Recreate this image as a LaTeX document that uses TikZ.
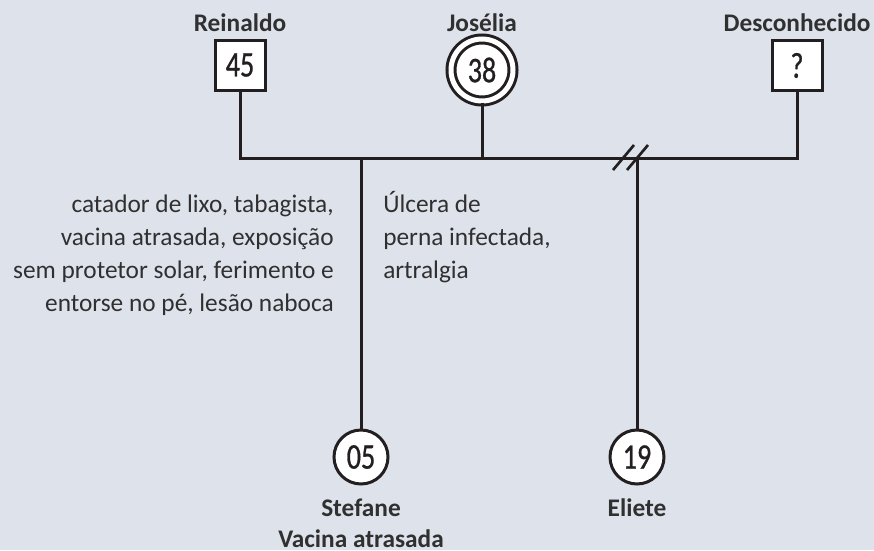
\documentclass[tikz,border=0pt]{standalone}
\usepackage{fontspec}
\setmainfont{Carlito}
\newfontfamily\numfont[FakeStretch=0.78,FakeBold=0.8]{Carlito}
\usetikzlibrary{calc}
\definecolor{bgcol}{RGB}{222,226,235}
\definecolor{linecol}{RGB}{35,31,32}
\definecolor{textcol}{RGB}{48,48,48}
\tikzset{
  conn/.style={draw=linecol, line width=2.25pt},
  sqbox/.style={draw=linecol, fill=white, line width=2.25pt, minimum size=37.5pt, inner sep=0pt, text=linecol, font=\numfont\fontsize{27}{27}\selectfont},
  circbox/.style={circle, draw=linecol, fill=white, line width=2.25pt, minimum size=40.5pt, inner sep=0pt, text=linecol, font=\numfont\fontsize{27}{27}\selectfont},
  dcircbox/.style={circle, draw=linecol, double=white, double distance=3.75pt, fill=white, line width=2.25pt, minimum size=46.5pt, inner sep=0pt, text=linecol, font=\numfont\fontsize{27}{27}\selectfont},
  namelbl/.style={inner sep=0pt, anchor=base, text=textcol, font=\bfseries\fontsize{19}{23.25}\selectfont},
  notelbl/.style={inner sep=0pt, text=textcol, font=\fontsize{19}{24.75}\selectfont}
}
\begin{document}
\begin{tikzpicture}[x=0.75pt,y=-0.75pt]
\fill[bgcol] (0,0) rectangle (874,550);
\useasboundingbox (0,0) rectangle (874,550);

\node[sqbox] (rei) at (240,65) {45};
\node[dcircbox] (jos) at (482,70) {38};
\node[sqbox] (des) at (797,65.5) {?};
\node[circbox] (ste) at (361,457) {05};
\node[circbox] (eli) at (637,457) {19};

\node[namelbl] (reiname) at (240,31) {Reinaldo};
\node[namelbl] (josname) at (482,31) {Josélia};
\node[namelbl] (desname) at (797,31) {Desconhecido};
\node[namelbl, anchor=north, align=center] (stename) at (361,499) {Stefane\\Vacina atrasada};
\node[namelbl] (eliname) at (637,516) {Eliete};

\node[notelbl, anchor=north east, align=right] (stenote) at (334,195) {catador de lixo, tabagista,\\vacina atrasada, exposição\\sem protetor solar, ferimento e\\entorse no pé, lesão naboca};
\node[notelbl, anchor=north west, align=left] (josnote) at (383,191) {Úlcera de\\perna infectada,\\artralgia};

\coordinate (barL) at (240,158);
\coordinate (barR) at (797,158);
\draw[conn] (rei.south) -- (barL) -- (barR) -- (des.south);
\draw[conn] (jos.south) -- (jos.south |- barL);
\draw[conn] (ste.north |- barL) -- (ste.north);
\draw[conn] (eli.north |- barL) -- (eli.north);
\coordinate (brk) at (eli.north |- barL);
\draw[conn, line width=2pt] ($(brk)+(-24,12)$) -- ++(21,-25);
\draw[conn, line width=2pt] ($(brk)+(-10,12)$) -- ++(21,-25);
\end{tikzpicture}
\end{document}
